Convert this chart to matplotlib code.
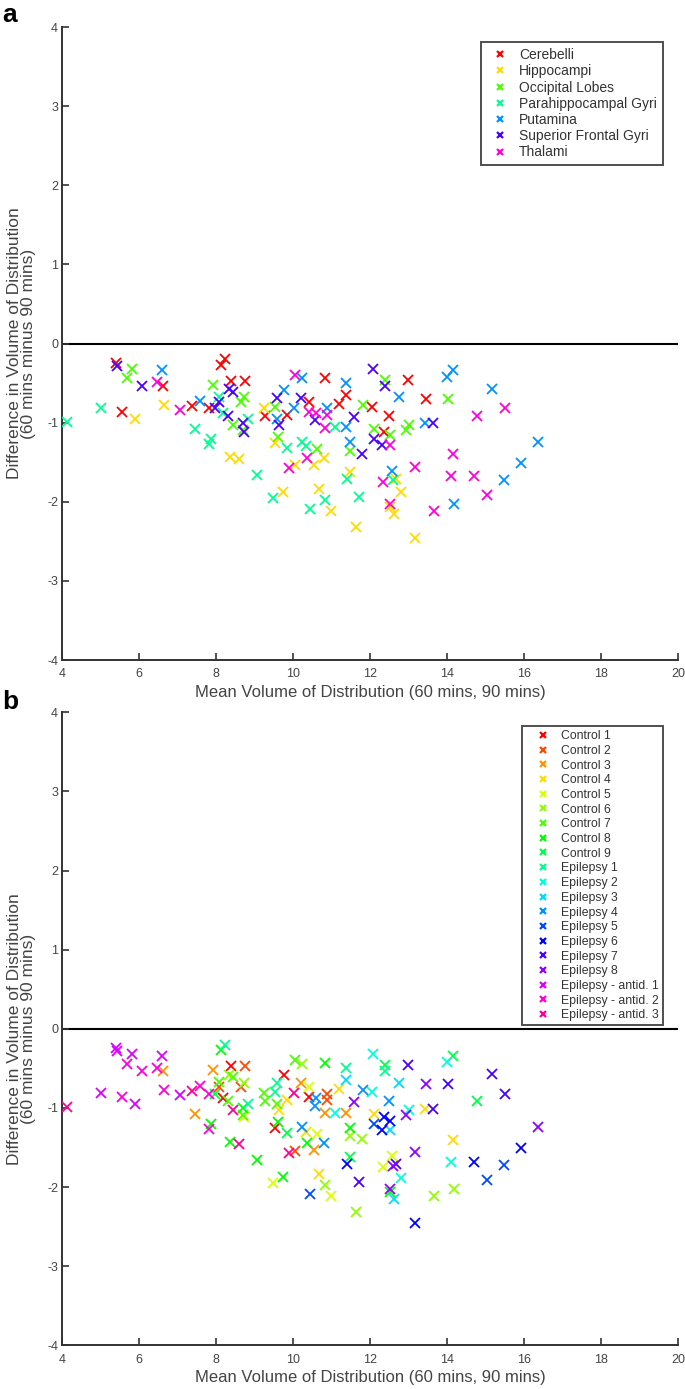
import numpy as np
import matplotlib
matplotlib.use("Agg")
import matplotlib.pyplot as plt
from matplotlib.colors import hsv_to_rgb
from matplotlib.lines import Line2D

plt.rcParams['font.family'] = ['Liberation Sans', 'DejaVu Sans']
plt.rcParams['axes.unicode_minus'] = False

# subject index: 0-8 Control 1-9, 9-16 Epilepsy 1-8, 17-19 Epilepsy - antid. 1-3
subjects = ['Control 1', 'Control 2', 'Control 3', 'Control 4', 'Control 5',
            'Control 6', 'Control 7', 'Control 8', 'Control 9',
            'Epilepsy 1', 'Epilepsy 2', 'Epilepsy 3', 'Epilepsy 4',
            'Epilepsy 5', 'Epilepsy 6', 'Epilepsy 7', 'Epilepsy 8',
            'Epilepsy - antid. 1', 'Epilepsy - antid. 2', 'Epilepsy - antid. 3']
regions = ['Cerebelli', 'Hippocampi', 'Occipital Lobes', 'Parahippocampal Gyri',
           'Putamina', 'Superior Frontal Gyri', 'Thalami']

# values (mean Vd, difference Vd, subject index)
cerebelli_x = [5.39, 6.62, 5.56, 7.36, 7.81, 8.12, 8.24, 8.38, 8.76, 9.26,
               10.83, 12.99, 10.42, 9.83, 11.18, 11.38, 13.44, 12.06, 12.49, 12.36]
cerebelli_y = [-0.24, -0.53, -0.86, -0.79, -0.82, -0.27, -0.20, -0.47, -0.47, -0.91,
               -0.43, -0.46, -0.74, -0.90, -0.76, -0.65, -0.70, -0.80, -0.91, -1.12]
cerebelli_s = [17, 2, 18, 19, 18, 7, 9, 0, 1, 6, 7, 15, 4, 3, 3, 11, 16, 10, 12, 14]

hippo_x = [5.89, 6.65, 8.36, 8.59, 9.25, 9.54, 10.81, 10.55, 10.05, 12.66,
           12.79, 12.62, 12.51, 11.47, 10.68, 10.98, 11.64, 13.16, 9.74]
hippo_y = [-0.95, -0.78, -1.43, -1.46, -0.81, -1.26, -1.45, -1.53, -1.54, -1.71,
           -1.88, -2.15, -2.06, -1.62, -1.84, -2.12, -2.32, -2.46, -1.87]
hippo_s = [17, 18, 7, 19, 6, 0, 12, 2, 1, 15, 10, 11, 7, 8, 3, 4, 5, 14, 7]

occipital_x = [5.80, 5.67, 7.93, 8.71, 8.65, 8.43, 8.69, 12.40, 9.54, 14.03,
               11.81, 9.60, 10.63, 11.47, 12.10, 12.53, 12.94, 13.01]
occipital_y = [-0.32, -0.44, -0.52, -0.68, -0.74, -1.03, -1.09, -0.46, -0.80, -0.70,
               -0.78, -1.18, -1.33, -1.36, -1.08, -1.16, -1.09, -1.03]
occipital_s = [17, 18, 2, 5, 1, 19, 6, 8, 9, 15, 12, 7, 4, 5, 3, 14, 16, 10]

parahippo_x = [5.01, 4.13, 8.07, 8.17, 8.82, 7.46, 7.87, 7.81, 9.07, 9.47,
               11.10, 9.85, 10.23, 10.33, 12.59, 11.41, 10.83, 10.43, 11.71]
parahippo_y = [-0.81, -0.99, -0.67, -0.88, -0.95, -1.08, -1.21, -1.27, -1.66, -1.95,
               -1.06, -1.32, -1.24, -1.30, -1.73, -1.71, -1.98, -2.09, -1.94]
parahippo_s = [17, 19, 6, 0, 9, 2, 7, 18, 7, 4, 10, 8, 12, 3, 16, 14, 5, 13, 15]

putamina_x = [6.60, 7.57, 10.24, 11.38, 14.00, 14.15, 9.77, 10.03, 10.89, 12.75,
              11.38, 9.57, 11.47, 13.42, 12.58, 14.17, 15.18, 16.36, 15.93, 15.47]
putamina_y = [-0.34, -0.72, -0.44, -0.50, -0.42, -0.34, -0.59, -0.81, -0.82, -0.68,
              -1.06, -0.95, -1.25, -1.01, -1.61, -2.03, -0.57, -1.24, -1.51, -1.72]
putamina_s = [17, 18, 5, 9, 10, 8, 0, 19, 1, 11, 2, 6, 7, 3, 4, 5, 15, 16, 14, 13]

sfg_x = [5.41, 6.08, 8.34, 8.43, 8.07, 7.96, 8.30, 8.69, 8.73, 12.07,
         12.40, 9.57, 10.20, 11.58, 10.57, 9.62, 11.80, 12.10, 12.32, 13.63]
sfg_y = [-0.28, -0.53, -0.58, -0.61, -0.74, -0.82, -0.91, -1.00, -1.12, -0.32,
         -0.53, -0.69, -0.69, -0.93, -0.97, -1.03, -1.39, -1.21, -1.28, -1.01]
sfg_s = [17, 18, 5, 6, 1, 8, 6, 7, 4, 10, 9, 9, 2, 16, 12, 3, 5, 13, 14, 15]

thalami_x = [6.45, 7.05, 10.05, 10.40, 14.78, 10.59, 10.89, 10.83, 10.35, 9.90,
             12.53, 14.15, 13.16, 12.33, 14.09, 14.69, 15.04, 13.66, 12.53, 15.50]
thalami_y = [-0.49, -0.84, -0.40, -0.86, -0.91, -0.88, -0.90, -1.07, -1.44, -1.57,
             -1.28, -1.40, -1.56, -1.75, -1.68, -1.68, -1.91, -2.12, -2.03, -0.82]
thalami_s = [18, 17, 6, 0, 8, 12, 1, 2, 7, 19, 11, 3, 16, 4, 10, 14, 13, 5, 16, 15]

region_x = [cerebelli_x, hippo_x, occipital_x, parahippo_x, putamina_x, sfg_x, thalami_x]
region_y = [cerebelli_y, hippo_y, occipital_y, parahippo_y, putamina_y, sfg_y, thalami_y]
region_s = [cerebelli_s, hippo_s, occipital_s, parahippo_s, putamina_s, sfg_s, thalami_s]

region_colors = [hsv_to_rgb((i / 7, 1, 1)) for i in range(7)]
subject_colors = [hsv_to_rgb((i / 21, 1, 1)) for i in range(20)]

all_x = np.concatenate([np.array(v) for v in region_x])
all_y = np.concatenate([np.array(v) for v in region_y])
all_s = np.concatenate([np.array(v) for v in region_s])

fig = plt.figure(figsize=(6.85, 13.89), dpi=100)
ax_a = fig.add_axes([0.0909, 0.5248, 0.8988, 0.4557])
ax_b = fig.add_axes([0.0909, 0.0315, 0.8988, 0.4557])

ms = 7
mew = 1.3


def style_axes(ax):
    ax.set_xlim(4, 20)
    ax.set_ylim(-4, 4)
    ax.set_xticks(np.arange(4, 21, 2))
    ax.set_yticks(np.arange(-4, 5, 1))
    ax.spines['top'].set_visible(False)
    ax.spines['right'].set_visible(False)
    for sp in ['left', 'bottom']:
        ax.spines[sp].set_color('#333333')
        ax.spines[sp].set_linewidth(1.4)
    ax.tick_params(direction='in', length=5, width=1.2, color='#333333',
                   labelsize=9, labelcolor='#444444')
    ax.tick_params(axis='x', pad=6)
    ax.tick_params(axis='y', pad=3)
    ax.axhline(0, color='black', lw=1.5, zorder=1)
    ax.set_xlabel('Mean Volume of Distribution (60 mins, 90 mins)',
                  fontsize=12, color='#444444', labelpad=3)
    ax.set_ylabel('Difference in Volume of Distribution\n(60 mins minus 90 mins)',
                  fontsize=12.5, color='#444444', labelpad=8, linespacing=0.95)


# panel a: coloured by region
for i in range(7):
    ax_a.plot(region_x[i], region_y[i], 'x', color=region_colors[i],
              ms=ms, mew=mew, zorder=3)
style_axes(ax_a)
handles_a = [Line2D([], [], ls='none', marker='x', color=region_colors[i], ms=5, mew=1.6)
             for i in range(7)]
leg_a = ax_a.legend(handles_a, regions, loc='upper right', bbox_to_anchor=(0.9755, 0.976),
                    fontsize=10, frameon=True, fancybox=False, handlelength=1.9,
                    handletextpad=0.42, labelspacing=0.16, borderpad=0.42, borderaxespad=0)
leg_a.get_frame().set_edgecolor('#222222')
leg_a.get_frame().set_linewidth(1.4)
for t in leg_a.get_texts():
    t.set_color('#333333')

# panel b: coloured by subject
for k in range(20):
    m = all_s == k
    ax_b.plot(all_x[m], all_y[m], 'x', color=subject_colors[k], ms=ms, mew=mew, zorder=3)
style_axes(ax_b)
handles_b = [Line2D([], [], ls='none', marker='x', color=subject_colors[k], ms=4.5, mew=1.6)
             for k in range(20)]
leg_b = ax_b.legend(handles_b, subjects, loc='upper right', bbox_to_anchor=(0.9755, 0.978),
                    fontsize=8.8, frameon=True, fancybox=False, handlelength=2.8,
                    handletextpad=0.05, labelspacing=0.22, borderpad=0.33, borderaxespad=0)
leg_b.get_frame().set_edgecolor('#222222')
leg_b.get_frame().set_linewidth(1.4)
for t in leg_b.get_texts():
    t.set_color('#333333')

fig.text(0.003, 0.9975, 'a', fontsize=19, fontweight='bold', va='top', ha='left')
fig.text(0.003, 0.5035, 'b', fontsize=19, fontweight='bold', va='top', ha='left')

fig.savefig('out.png', dpi=100)
